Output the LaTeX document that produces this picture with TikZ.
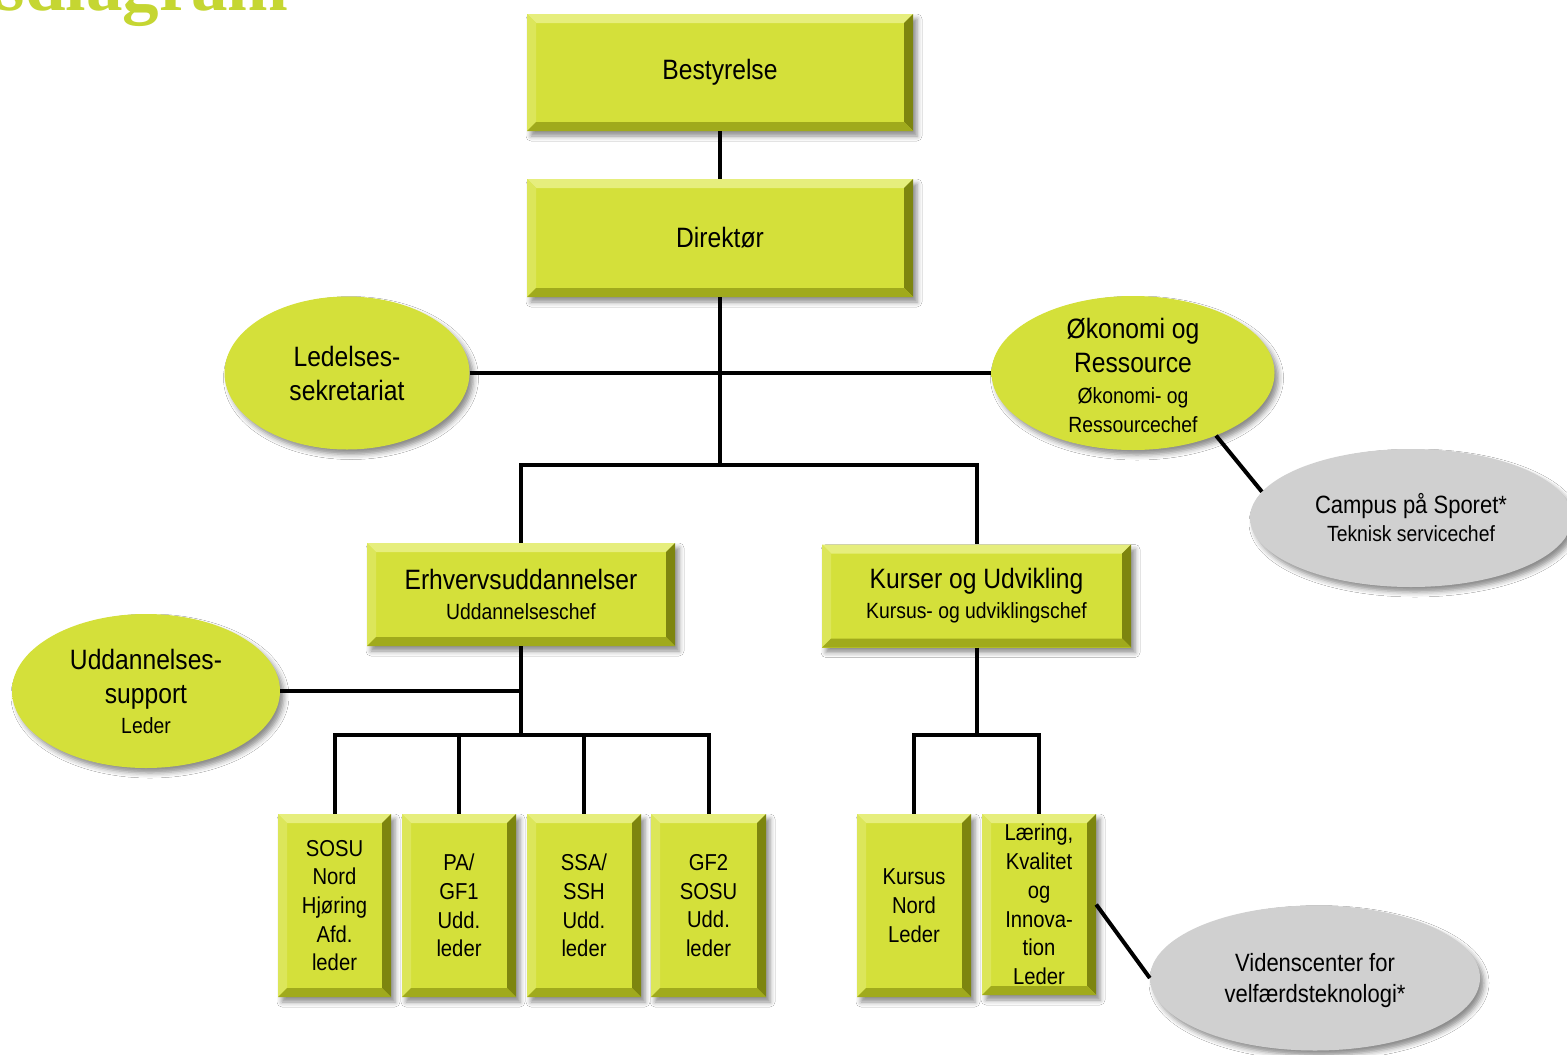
\documentclass[tikz,border=0pt]{standalone}
\usepackage{fontspec}
\setmainfont{Liberation Sans}[FakeStretch=0.88]
\newfontfamily\titlefont{Liberation Serif}
\usetikzlibrary{shapes.geometric,shadows.blur,calc}
\definecolor{ygreen}{RGB}{212,224,58}
\definecolor{ylight}{RGB}{230,238,125}
\definecolor{ymid}{RGB}{220,230,90}
\definecolor{ydark}{RGB}{160,170,28}
\definecolor{ydarker}{RGB}{125,133,15}
\definecolor{gfill}{RGB}{208,208,208}
\definecolor{gdark}{RGB}{135,135,135}
\definecolor{titlegreen}{RGB}{197,214,50}
\pgfdeclareradialshading{yshade}{\pgfpoint{0bp}{3bp}}{color(0bp)=(ygreen); color(34bp)=(ygreen); color(49bp)=(ydark); color(70bp)=(ydark)}
\pgfdeclareradialshading{gshade}{\pgfpoint{0bp}{3bp}}{color(0bp)=(gfill); color(34bp)=(gfill); color(49bp)=(gdark); color(70bp)=(gdark)}
\newcommand\fntA{\fontsize{28}{34}\selectfont}
\newcommand\fntB{\fontsize{22}{29}\selectfont}
\newcommand\fntC{\fontsize{23}{28.7}\selectfont}
\newcommand\fntD{\fontsize{25}{31}\selectfont}
\tikzset{
  shd/.style={blur shadow={shadow xshift=4pt, shadow yshift=-5pt, shadow blur radius=5pt, shadow opacity=45}},
  bx/.style={rectangle, fill=ygreen, inner sep=0pt, align=center, shd,
    path picture={
      \path (path picture bounding box.north west) coordinate (q1)
            (path picture bounding box.north east) coordinate (q2)
            (path picture bounding box.south east) coordinate (q3)
            (path picture bounding box.south west) coordinate (q4);
      \path ([xshift=9pt,yshift=-9pt]q1) coordinate (r1)
            ([xshift=-9pt,yshift=-9pt]q2) coordinate (r2)
            ([xshift=-9pt,yshift=9pt]q3) coordinate (r3)
            ([xshift=9pt,yshift=9pt]q4) coordinate (r4);
      \fill[ylight] (q1)--(q2)--(r2)--(r1)--cycle;
      \fill[ymid] (q1)--(r1)--(r4)--(q4)--cycle;
      \fill[ydarker] (q2)--(q3)--(r3)--(r2)--cycle;
      \fill[ydark] (q4)--(r4)--(r3)--(q3)--cycle;
    }},
  ell/.style={ellipse, shading=yshade, inner sep=0pt, shd},
  gell/.style={ellipse, shading=gshade, inner sep=0pt, shd},
  txt/.style={align=center, inner sep=0pt},
  conn/.style={draw=black, line width=4pt}
}
\begin{document}
\begin{tikzpicture}[x=1pt,y=-1pt]
\useasboundingbox (0,0) rectangle (1567,1055);
\clip (0,0) rectangle (1567,1055);
\fill[white] (0,0) rectangle (1567,1055);
\node[anchor=base east, text=titlegreen, inner sep=0pt, font=\titlefont\bfseries\fontsize{73}{73}\selectfont] (title) at (289,10) {sdiagram};

% boxes
\node[bx, font=\fntA, minimum width=386pt, minimum height=117pt] (bes) at (720,72.5) {Bestyrelse};
\node[bx, font=\fntA, minimum width=386pt, minimum height=118pt] (dir) at (720,238) {Direktør};
\node[bx, font=\fntA, minimum width=308pt, minimum height=103pt] (erh) at (521,594.5) {Erhvervsuddannelser\\[-4pt]\fntB Uddannelseschef};
\node[bx, font=\fntA, minimum width=309pt, minimum height=103pt] (kur) at (976.5,596) {Kurser og Udvikling\\[-4pt]\fntB Kursus- og udviklingschef};

\node[bx, font=\fntC, minimum width=113pt, minimum height=183pt] (sosu) at (334.5,905.5) {SOSU\\Nord\\Hjøring\\Afd.\\leder};
\node[bx, font=\fntC, minimum width=114pt, minimum height=183pt] (pa) at (459,905.5) {PA/\\GF1\\Udd.\\leder};
\node[bx, font=\fntC, minimum width=114pt, minimum height=183pt] (ssa) at (584,905.5) {SSA/\\SSH\\Udd.\\leder};
\node[bx, font=\fntC, minimum width=115pt, minimum height=183pt] (gf2) at (708.5,905.5) {GF2\\SOSU\\Udd.\\leder};
\node[bx, font=\fntC, minimum width=114pt, minimum height=183pt] (kn) at (914,905.5) {Kursus\\Nord\\Leder};
\node[bx, font=\fntC, minimum width=114pt, minimum height=181pt] (lki) at (1039,904.5) {Læring,\\Kvalitet\\og\\Innova-\\tion\\Leder};

% ellipses
\node[ell, minimum width=245pt, minimum height=153pt] (les) at (347,373) {};
\node[txt, font=\fntA] at (les) {Ledelses-\\sekretariat};
\node[ell, minimum width=283pt, minimum height=154pt] (oek) at (1133,373) {};
\node[txt, font=\fntA] at ($(oek)+(0,2)$) {Økonomi og\\Ressource\\[-3pt]\fntB Økonomi- og\\[-5pt]\fntB Ressourcechef};
\node[ell, minimum width=268pt, minimum height=154pt] (uds) at (146,691) {};
\node[txt, font=\fntA] at (uds) {Uddannelses-\\support\\[-4pt]\fntB Leder};
\node[gell, minimum width=322pt, minimum height=138pt] (cam) at (1411,518) {};
\node[txt, font=\fntD] at (cam) {Campus på Sporet*\\[-3pt]\fntB Teknisk servicechef};
\node[gell, minimum width=330pt, minimum height=145pt] (vid) at (1315,978) {};
\node[txt, font=\fntD] at ($(vid)+(0,3)$) {Videnscenter for\\velfærdsteknologi*};

% junctions
\path (dir.south) ++(0,168) coordinate (j1);
\coordinate (j2) at (521,735);
\coordinate (j3) at (kur.south |- j2);

% connectors
\draw[conn] (bes.south) -- (dir.north);
\draw[conn] (dir.south) -- (j1);
\draw[conn] (les.east) -- (oek.west);
\draw[conn] (erh.north) |- (j1) -| (kur.north);
\draw[conn] (oek.323) -- (cam.170);
\draw[conn] (erh.south) -- (j2);
\draw[conn] (uds.east) -- (uds.east -| erh.south);
\draw[conn] (sosu.north) |- (j2) -| (gf2.north);
\draw[conn] (pa.north) -- (pa.north |- j2);
\draw[conn] (ssa.north) -- (ssa.north |- j2);
\draw[conn] (kur.south) -- (j3);
\draw[conn] (kn.north) |- (j3) -| (lki.north);
\draw[conn] (lki.east) -- (vid.west);
\end{tikzpicture}
\end{document}
